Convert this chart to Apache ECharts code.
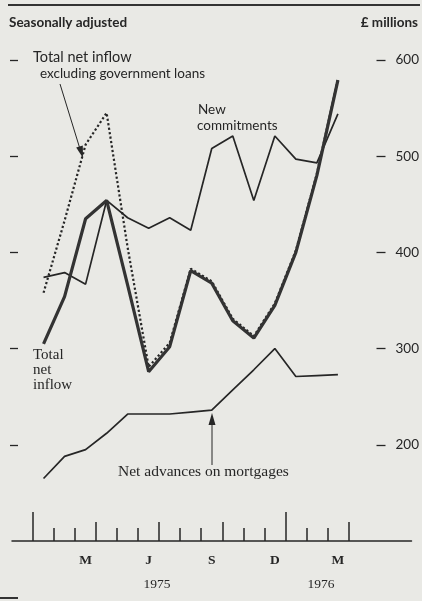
<!DOCTYPE html>
<html>
<head>
<meta charset="utf-8">
<script src="https://cdn.jsdelivr.net/npm/echarts@6/dist/echarts.min.js"></script>
<style>
  html, body { margin: 0; padding: 0; background: #e9e9e5; }
  #chart { width: 422px; height: 601px; }
</style>
</head>
<body>
<div id="chart"></div>
<script>
// Months: Jan 1975 .. Mar 1976 (plotted at mid-month)
const months = ['1975-01','1975-02','1975-03','1975-04','1975-05','1975-06','1975-07','1975-08','1975-09','1975-10','1975-11','1975-12','1976-01','1976-02','1976-03'];
// £ millions, seasonally adjusted
const newCommitments    = [374, 379, 367, 454, 436, 425, 436, 423, 508, 521, 454, 521, 497, 493, 544];
const totalNetInflow    = [305, 354, 435, 454, 366, 276, 302, 381, 368, 329, 311, 345, 400, 480, 579];
const exclGovLoans      = [358, 433, 512, 545, 405, 281, 306, 383, 370, 331, 313, 347, 402, 482, 580];
const netAdvances       = [165, 188, 195, 212, 232, 232, 232, 234, 236, 257, 278, 300, 271, 272, 273];
// Axis labels
const yTicks = [200, 300, 400, 500, 600];
const monthTickLabels = ['M', 'J', 'S', 'D', 'M'];   // Mar, Jun, Sep, Dec 1975, Mar 1976
const monthTickIndex  = [2, 5, 8, 11, 14];
const yearLabels = ['1975', '1976'];

const toXY = arr => arr.map((v, i) => [i + 0.5, v]);

const ink = '#262626';
const serif = '"Liberation Serif", "DejaVu Serif", serif';
const sans = 'Lato, "Open Sans", sans-serif';

const labelMap = {};
monthTickIndex.forEach((m, k) => { labelMap[(m + 0.5).toFixed(1)] = monthTickLabels[k]; });

const chart = echarts.init(document.getElementById('chart'), null, { renderer: 'canvas' });

const baseX = {
  type: 'value', min: -1, max: 18, gridIndex: 0, position: 'bottom',
  splitLine: { show: false },
  axisLine: { show: false, onZero: false },
  axisLabel: { show: false }
};

chart.setOption({
  backgroundColor: '#e9e9e5',
  animation: false,
  grid: { left: 12, right: 9, top: 60, bottom: 60 },
  xAxis: [
    Object.assign({}, baseX, {
      axisLine: { show: true, onZero: false, lineStyle: { color: ink, width: 1.5 } },
      axisTick: { show: true, inside: true, length: 13, lineStyle: { color: ink, width: 1.5 },
                  customValues: [1, 2, 4, 5, 7, 8, 10, 11, 13, 14] },
      axisLabel: {
        show: true, margin: 13, customValues: monthTickIndex.map(m => m + 0.5),
        formatter: v => labelMap[Number(v).toFixed(1)] || '',
        fontFamily: serif, fontWeight: 'bold', fontSize: 13.5, color: ink
      }
    }),
    Object.assign({}, baseX, {
      axisTick: { show: true, inside: true, length: 19, lineStyle: { color: ink, width: 1.5 },
                  customValues: [3, 6, 9, 15] }
    }),
    Object.assign({}, baseX, {
      axisTick: { show: true, inside: true, length: 29, lineStyle: { color: ink, width: 1.5 },
                  customValues: [0, 12] },
      axisLabel: {
        show: true, margin: 36, customValues: [5.9, 13.7],
        formatter: v => (v < 10 ? yearLabels[0] : yearLabels[1]),
        fontFamily: serif, fontSize: 13.5, color: ink
      }
    })
  ],
  yAxis: [
    {
      type: 'value', min: 100, max: 600, position: 'right', offset: -35,
      splitLine: { show: false },
      axisLine: { show: false, onZero: false },
      axisTick: { show: true, length: 9, customValues: yTicks, lineStyle: { color: ink, width: 1.3 } },
      axisLabel: { show: true, margin: 19, customValues: yTicks, fontFamily: sans, fontSize: 13.5, color: ink }
    },
    {
      type: 'value', min: 100, max: 600, position: 'left', offset: 2,
      splitLine: { show: false },
      axisLine: { show: false, onZero: false },
      axisTick: { show: true, inside: true, length: 8, customValues: yTicks, lineStyle: { color: ink, width: 1.3 } },
      axisLabel: { show: false }
    }
  ],
  series: [
    {
      name: 'Net advances on mortgages', type: 'line', data: toXY(netAdvances),
      symbol: 'none', lineStyle: { color: ink, width: 1.7 }
    },
    {
      name: 'New commitments', type: 'line', data: toXY(newCommitments),
      symbol: 'none', lineStyle: { color: ink, width: 1.7 }
    },
    {
      name: 'Total net inflow excluding government loans', type: 'line', data: toXY(exclGovLoans),
      symbol: 'none', lineStyle: { color: ink, width: 2.2, type: [2.2, 2.3] }
    },
    {
      name: 'Total net inflow', type: 'line', data: toXY(totalNetInflow),
      symbol: 'none', lineStyle: { color: '#333', width: 3.2 }
    }
  ],
  graphic: [
    { type: 'line', shape: { x1: 8, y1: 5, x2: 420, y2: 5 }, style: { stroke: '#333', lineWidth: 2 } },
    { type: 'line', shape: { x1: 0, y1: 598, x2: 18, y2: 598 }, style: { stroke: '#333', lineWidth: 2 } },
    { type: 'text', x: 9, y: 23, style: { text: 'Seasonally adjusted', font: 'bold 13.5px ' + sans, fill: ink, verticalAlign: 'middle' } },
    { type: 'text', x: 418, y: 23, style: { text: '£ millions', font: 'bold 13.5px ' + sans, fill: ink, align: 'right', verticalAlign: 'middle' } },
    { type: 'text', x: 33, y: 57, style: { text: 'Total net inflow', font: 'normal 14.5px ' + sans, fill: ink, verticalAlign: 'middle' } },
    { type: 'text', x: 40, y: 74, style: { text: 'excluding government loans', font: 'normal 13.5px ' + sans, fill: ink, verticalAlign: 'middle' } },
    { type: 'line', shape: { x1: 60, y1: 84, x2: 80, y2: 149 }, style: { stroke: ink, lineWidth: 1 } },
    { type: 'polygon', shape: { points: [[83, 158], [82.8, 145.5], [76.2, 147.5]] }, style: { fill: ink } },
    { type: 'text', x: 198, y: 110, style: { text: 'New', font: 'normal 13.5px ' + sans, fill: ink, verticalAlign: 'middle' } },
    { type: 'text', x: 197, y: 126, style: { text: 'commitments', font: 'normal 13.5px ' + sans, fill: ink, verticalAlign: 'middle' } },
    { type: 'text', x: 33, y: 355, style: { text: 'Total', font: 'normal 15px ' + serif, fill: ink, verticalAlign: 'middle' } },
    { type: 'text', x: 33, y: 370, style: { text: 'net', font: 'normal 15px ' + serif, fill: ink, verticalAlign: 'middle' } },
    { type: 'text', x: 33, y: 385, style: { text: 'inflow', font: 'normal 15px ' + serif, fill: ink, verticalAlign: 'middle' } },
    { type: 'text', x: 118, y: 472, style: { text: 'Net advances on mortgages', font: 'normal 15.5px ' + serif, fill: ink, verticalAlign: 'middle' } },
    { type: 'line', shape: { x1: 212, y1: 465, x2: 212, y2: 422 }, style: { stroke: ink, lineWidth: 1 } },
    { type: 'polygon', shape: { points: [[212, 413], [208.5, 425], [215.5, 425]] }, style: { fill: ink } }
  ]
});
</script>
</body>
</html>
